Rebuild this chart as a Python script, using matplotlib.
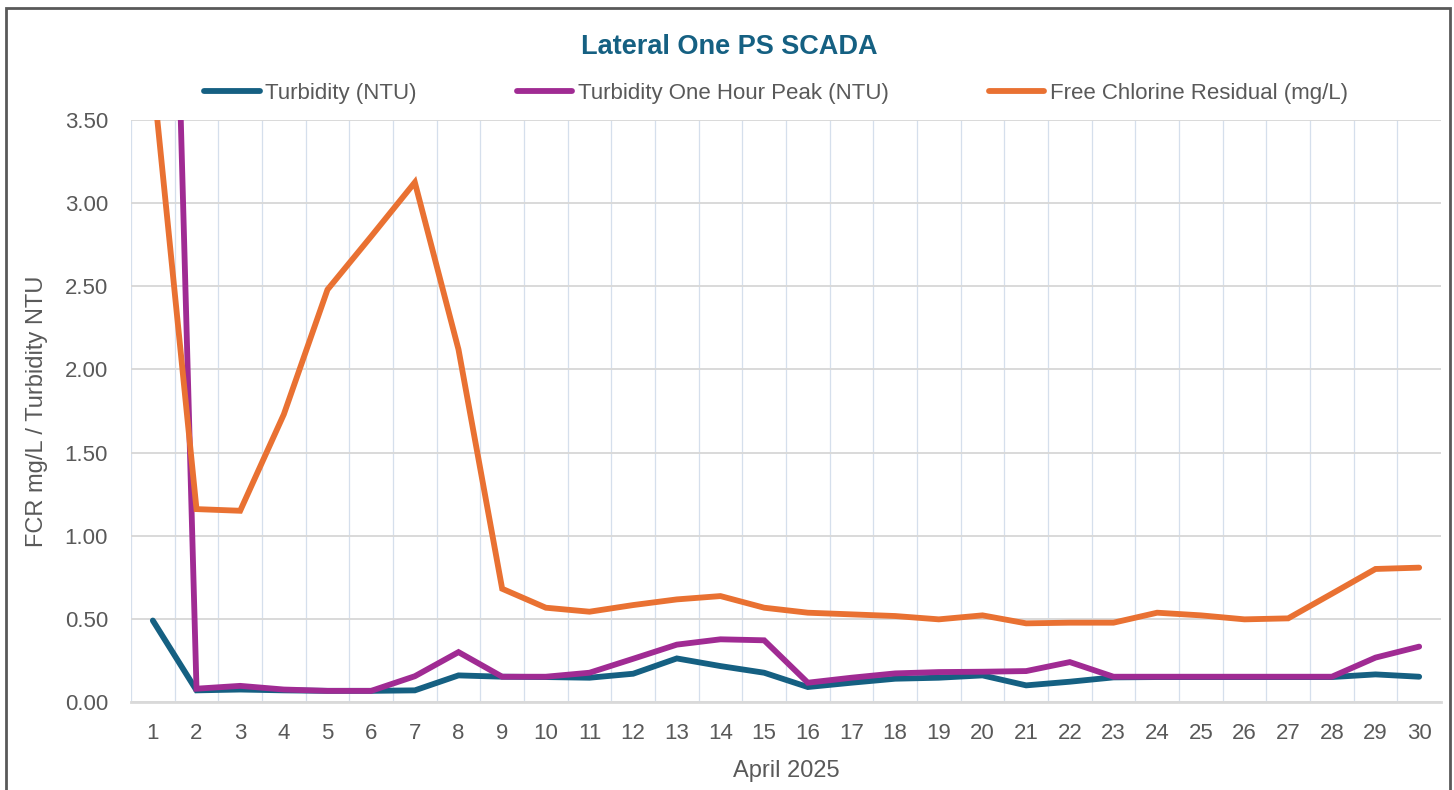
"""
Lateral One PS SCADA - daily turbidity and free chlorine residual, April 2025
"""
import matplotlib
matplotlib.use("Agg")
import matplotlib.pyplot as plt
from matplotlib.patches import Rectangle

days = list(range(1, 31))
turbidity = [0.49, 0.07, 0.075, 0.07, 0.067, 0.067, 0.07, 0.16, 0.152, 0.15,
             0.146, 0.17, 0.262, 0.216, 0.176, 0.09, 0.116, 0.14, 0.146, 0.16,
             0.10, 0.122, 0.148, 0.15, 0.15, 0.15, 0.15, 0.15, 0.166, 0.152]
turbidity_peak = [9.58, 0.08, 0.097, 0.075, 0.067, 0.067, 0.155, 0.30, 0.152, 0.152,
                  0.176, 0.26, 0.345, 0.377, 0.371, 0.116, 0.146, 0.172, 0.18, 0.182,
                  0.186, 0.24, 0.152, 0.152, 0.152, 0.152, 0.152, 0.152, 0.267, 0.333]
fcr = [3.77, 1.16, 1.15, 1.73, 2.48, 2.80, 3.125, 2.12, 0.681, 0.567,
       0.543, 0.583, 0.617, 0.637, 0.567, 0.537, 0.527, 0.517, 0.497, 0.521,
       0.473, 0.477, 0.477, 0.537, 0.521, 0.497, 0.503, 0.651, 0.80, 0.808]
series_names = ["Turbidity (NTU)", "Turbidity One Hour Peak (NTU)",
                "Free Chlorine Residual (mg/L)"]
y_ticks = [0.0, 0.5, 1.0, 1.5, 2.0, 2.5, 3.0, 3.5]

BLUE = "#156082"
PURPLE = "#A02B93"
ORANGE = "#E97132"
TEXT = "#595959"

plt.rcParams["font.family"] = ["Liberation Sans", "DejaVu Sans"]

fig = plt.figure(figsize=(14.54, 7.90), dpi=100)
ax = fig.add_axes([131 / 1454, 1 - 702 / 790, 1310 / 1454, 582 / 790])

for vals, col, name in zip([turbidity, turbidity_peak, fcr],
                           [BLUE, PURPLE, ORANGE], series_names):
    ax.plot(days, vals, color=col, lw=4.2, label=name,
            solid_capstyle="round", solid_joinstyle="miter")

ax.set_xlim(0.5, 30.5)
ax.set_ylim(0, 3.5)
ax.set_yticks(y_ticks)
ax.set_yticklabels([f"{v:.2f}" for v in y_ticks])
ax.set_xticks(days)
ax.set_xticks([d + 0.5 for d in range(0, 30)], minor=True)
ax.tick_params(axis="both", which="both", length=0, labelsize=16,
               labelcolor=TEXT)
ax.tick_params(axis="x", pad=15)
ax.tick_params(axis="y", pad=16.5)

ax.grid(axis="y", which="major", color="#D9D9D9", lw=1.4)
ax.grid(axis="x", which="minor", color="#D5DFEC", lw=0.9)
ax.grid(axis="x", which="major", visible=False)
ax.set_axisbelow(True)
for s in ["top", "right", "left"]:
    ax.spines[s].set_visible(False)
ax.spines["bottom"].set_color("#D9D9D9")
ax.spines["bottom"].set_linewidth(2)

ax.set_xlabel("April 2025", fontsize=17, color=TEXT)
ax.xaxis.set_label_coords(0.5, -0.1)
ax.set_ylabel("FCR mg/L / Turbidity NTU", fontsize=17, color=TEXT)
ax.yaxis.set_label_coords(-0.0635, 0.5)

fig.text(729 / 1454, 1 - 47 / 790, "Lateral One PS SCADA", ha="center",
         va="center", fontsize=19.5, fontweight="bold", color=BLUE)

fig.legend(loc="center", bbox_to_anchor=(776 / 1454, 1 - 93 / 790), ncol=3,
           frameon=False, fontsize=16, labelcolor=TEXT, handlelength=2.5,
           handletextpad=0.25, columnspacing=4.5)

fig.add_artist(Rectangle((6 / 1454, -0.05), 1444 / 1454, 1.05 - 8 / 790,
                         transform=fig.transFigure, fill=False,
                         edgecolor="#595959", lw=2))

fig.savefig("out.png", dpi=100)
